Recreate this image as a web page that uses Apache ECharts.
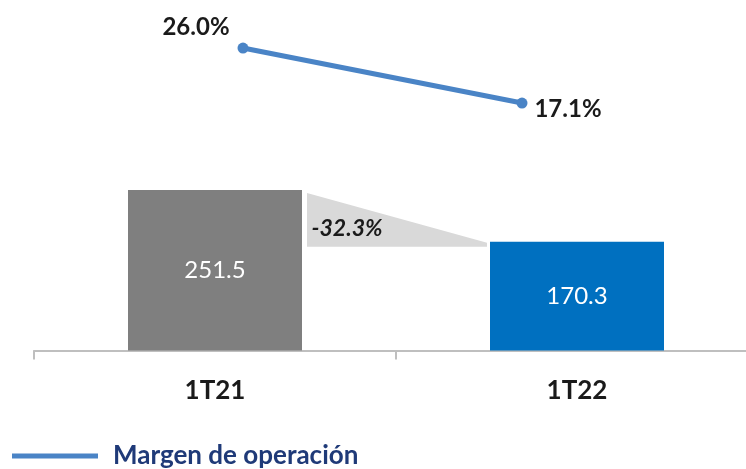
<!DOCTYPE html>
<html>
<head>
<meta charset="utf-8">
<script src="https://cdn.jsdelivr.net/npm/echarts@6/dist/echarts.min.js"></script>
<style>
html,body{margin:0;padding:0;background:#fff;}
#c{width:746px;height:469px;}
</style>
</head>
<body>
<div id="c"></div>
<script>
const categories = ['1T21', '1T22'];
const barValues = [251.5, 170.3];
const marginValues = [26.0, 17.1];
const marginLabels = ['26.0%', '17.1%'];
const changeLabel = '-32.3%';
const legendName = 'Margen de operación';

const FONT = 'Lato';
const chart = echarts.init(document.getElementById('c'), null, {renderer: 'canvas'});

const BAR_W = 174;

const option = {
  animation: false,
  backgroundColor: '#ffffff',
  grid: [
    {left: 34, width: 724, top: 31.5, height: 319, containLabel: false, outerBoundsMode: 'none'},
    {left: 103.5, width: 558, top: 23.3, height: 185.4, containLabel: false, outerBoundsMode: 'none'}
  ],
  xAxis: [
    {
      type: 'category', gridIndex: 0, data: categories,
      axisLine: {show: true, lineStyle: {color: '#bfbfbf', width: 2}},
      axisTick: {show: true, length: 9, lineStyle: {color: '#bfbfbf', width: 2}},
      axisLabel: {margin: 27, fontFamily: FONT, fontWeight: 'bold', fontSize: 26, color: '#1a1a1a'}
    },
    {
      type: 'category', gridIndex: 1, data: categories, show: false
    }
  ],
  yAxis: [
    {type: 'value', gridIndex: 0, min: 0, max: 500, show: false, splitLine: {show: false}},
    {type: 'value', gridIndex: 1, min: 0, max: 30, show: false, splitLine: {show: false}}
  ],
  legend: {
    show: true,
    left: 12, top: 443,
    padding: 0,
    icon: 'rect',
    itemWidth: 86, itemHeight: 5, itemGap: 10,
    data: [{name: legendName, itemStyle: {color: '#4a84c6'}}],
    textStyle: {fontFamily: FONT, fontWeight: 'bold', fontSize: 26, color: '#1f3a78', padding: [0, 0, 0, 10]}
  },
  series: [
    {
      type: 'custom',
      xAxisIndex: 0, yAxisIndex: 0,
      silent: true,
      z: 1,
      data: [[0, barValues[0], 1, barValues[1]]],
      renderItem: function (params, api) {
        const p0 = api.coord([api.value(0), api.value(1)]);
        const p1 = api.coord([api.value(2), api.value(3)]);
        const xl = p0[0] + BAR_W / 2 + 5;
        const xr = p1[0] - BAR_W / 2 - 3;
        const yTop = p0[1] + 3;
        const yRight = p1[1] + 1;
        const yBot = p1[1] + 5;
        return {
          type: 'group',
          children: [
            {
              type: 'polygon',
              shape: {points: [[xl, yTop], [xr, yRight], [xr, yBot], [xl, yBot]]},
              style: {fill: '#d9d9d9'}
            },
            {
              type: 'text',
              style: {
                x: xl + 40, y: yBot - 18,
                text: changeLabel,
                align: 'center', verticalAlign: 'middle',
                font: 'italic bold 23px ' + FONT,
                fill: '#1a1a1a'
              }
            }
          ]
        };
      }
    },
    {
      type: 'bar',
      xAxisIndex: 0, yAxisIndex: 0,
      barWidth: BAR_W,
      z: 2,
      data: [
        {value: barValues[0], itemStyle: {color: '#7f7f7f'}},
        {value: barValues[1], itemStyle: {color: '#0070c0'}}
      ],
      label: {
        show: true, position: 'inside',
        fontFamily: FONT, fontSize: 24, color: '#ffffff',
        formatter: function (p) { return p.value.toFixed(1); }
      }
    },
    {
      type: 'line',
      name: legendName,
      xAxisIndex: 1, yAxisIndex: 1,
      z: 3,
      symbol: 'circle', symbolSize: 11,
      lineStyle: {color: '#4a84c6', width: 5},
      itemStyle: {color: '#4a84c6'},
      data: [
        {value: marginValues[0], label: {offset: [-47, -21]}},
        {value: marginValues[1], label: {offset: [46, 6]}}
      ],
      label: {
        show: true, position: 'inside',
        fontFamily: FONT, fontWeight: 'bold', fontSize: 24, color: '#1a1a1a',
        formatter: function (p) { return marginLabels[p.dataIndex]; }
      }
    }
  ]
};
chart.setOption(option);
</script>
</body>
</html>
